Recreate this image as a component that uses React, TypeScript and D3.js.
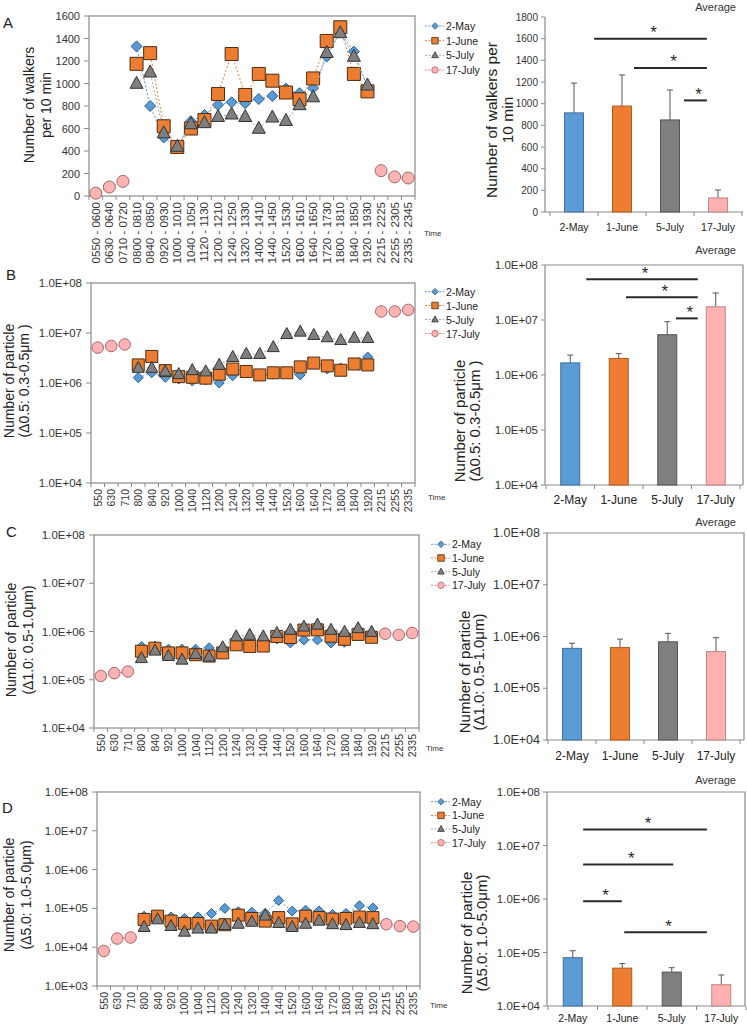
import React from "react";
import * as d3 from "d3";

const FONT = "'Liberation Sans', Arial, Helvetica, sans-serif";

// ---------- categories ----------
const timeLabelsA = ["0550 - 0600","0630 - 0640","0710 - 0720","0800 - 0810","0840 - 0850","0920 - 0930","1000 - 1010","1040 - 1050","1120 - 1130","1200 - 1210","1240 - 1250","1320 - 1330","1400 - 1410","1440 - 1450","1520 - 1530","1600 - 1610","1640 - 1650","1720 - 1730","1800 - 1810","1840 - 1850","1920 - 1930","2215 - 2225","2255 - 2305","2335 - 2345"];
const timeLabels = ["550","630","710","800","840","920","1000","1040","1120","1200","1240","1320","1400","1440","1520","1600","1640","1720","1800","1840","1920","2215","2255","2335"];
const dates = ["2-May", "1-June", "5-July", "17-July"];
const dayIdx = d3.range(3, 21);
const nightIdx = [0, 1, 2, 21, 22, 23];

// ---------- Panel A: walkers ----------
const walkersMay = [1330, 800, 520, 430, 665, 720, 810, 833, 825, 862, 889, 955, 914, 960, 1240, 1455, 1283, 966];
const walkersJune = [1175, 1270, 620, 436, 600, 675, 907, 1262, 898, 1085, 1025, 920, 860, 1045, 1378, 1500, 1085, 930];
const walkersJuly5 = [1000, 1100, 560, 440, 640, 650, 705, 727, 705, 600, 700, 670, 810, 880, 1274, 1450, 1240, 985];
const walkersJuly17 = [25, 80, 130, 225, 170, 160];
const walkersMean = [915, 978, 850, 130];
const walkersSD = [275, 287, 276, 73];

// ---------- Panel B: 0.3-0.5 um ----------
const pmBMay = [1.28e6, 1.6e6, 1.3e6, 1.2e6, 1.1e6, 1.15e6, 1.0e6, 1.4e6, 1.6e6, 1.4e6, 1.5e6, 1.55e6, 1.45e6, 2.4e6, 1.9e6, 2.0e6, 2.4e6, 3.3e6];
const pmBJune = [2.3e6, 3.4e6, 1.77e6, 1.34e6, 1.3e6, 1.25e6, 1.5e6, 1.9e6, 1.7e6, 1.45e6, 1.6e6, 1.6e6, 2.1e6, 2.5e6, 2.2e6, 1.8e6, 2.4e6, 2.3e6];
const pmBJuly5 = [2.0e6, 2.0e6, 1.7e6, 1.5e6, 1.8e6, 1.7e6, 2.3e6, 3.3e6, 3.8e6, 3.8e6, 5.2e6, 9.5e6, 1.06e7, 9.1e6, 8.2e6, 7.2e6, 8.0e6, 7.9e6];
const pmBJuly17 = [5.1e6, 5.5e6, 5.9e6, 2.7e7, 2.7e7, 2.9e7];
const pmBMean = [1.66e6, 2.0e6, 5.4e6, 1.74e7];
const pmBSD = [0.64e6, 0.45e6, 3.9e6, 1.36e7];

// ---------- Panel C: 0.5-1.0 um ----------
const pmCMay = [4.9e5, 5.0e5, 4.3e5, 4.3e5, 4.3e5, 4.6e5, 4.0e5, 5.5e5, 5.2e5, 5.3e5, 7.0e5, 5.8e5, 6.7e5, 6.7e5, 5.8e5, 6.0e5, 9.0e5, 8.0e5];
const pmCJune = [3.9e5, 4.5e5, 3.6e5, 3.6e5, 3.3e5, 3.1e5, 3.6e5, 5.3e5, 4.9e5, 5.0e5, 7.9e5, 7.5e5, 1.07e6, 1.08e6, 8.0e5, 6.9e5, 8.7e5, 7.6e5];
const pmCJuly5 = [2.8e5, 4.0e5, 3.1e5, 2.6e5, 3.4e5, 3.0e5, 4.7e5, 7.9e5, 8.5e5, 7.9e5, 9.3e5, 1.08e6, 1.26e6, 1.38e6, 1.08e6, 9.8e5, 1.17e6, 9.8e5];
const pmCJuly17 = [1.2e5, 1.37e5, 1.48e5, 9.0e5, 8.5e5, 9.3e5];
const pmCMean = [5.9e5, 6.1e5, 7.9e5, 5.1e5];
const pmCSD = [1.5e5, 2.8e5, 3.6e5, 4.4e5];

// ---------- Panel D: 1.0-5.0 um ----------
const pmDMay = [6.3e4, 6.0e4, 6.0e4, 5.5e4, 6.0e4, 7.4e4, 1.0e5, 8.2e4, 8.0e4, 7.5e4, 1.6e5, 8.5e4, 9.0e4, 8.6e4, 7.0e4, 7.4e4, 1.17e5, 1.03e5];
const pmDJune = [5.2e4, 6.3e4, 4.7e4, 4.1e4, 4.1e4, 3.5e4, 3.8e4, 6.7e4, 5.5e4, 4.7e4, 5.8e4, 4.0e4, 6.3e4, 5.8e4, 5.3e4, 5.5e4, 6.0e4, 5.8e4];
const pmDJuly5 = [3.3e4, 5.2e4, 3.5e4, 2.5e4, 3.0e4, 3.0e4, 3.7e4, 4.0e4, 4.5e4, 6.5e4, 4.2e4, 3.3e4, 4.0e4, 4.8e4, 3.9e4, 3.7e4, 4.2e4, 3.9e4];
const pmDJuly17 = [8.0e3, 1.67e4, 1.78e4, 3.9e4, 3.5e4, 3.4e4];
const pmDMean = [8.0e4, 5.1e4, 4.3e4, 2.5e4];
const pmDSD = [2.8e4, 1.1e4, 0.9e4, 1.3e4];

// significance annotations: from/to in category units, y in data units
const sigA = [{ from: 0.42, to: 2.77, y: 1600 }, { from: 1.25, to: 2.77, y: 1330 }, { from: 2.29, to: 2.77, y: 1030 }];
const sigB = [{ from: 0.33, to: 2.63, y: 5.5e7 }, { from: 1.15, to: 2.63, y: 2.6e7 }, { from: 2.18, to: 2.63, y: 1.07e7 }];
const sigD = [{ from: 0.21, to: 2.71, y: 2.0e7 }, { from: 0.21, to: 2.03, y: 4.4e6 }, { from: 0.21, to: 0.99, y: 9.1e5 }, { from: 1.04, to: 2.71, y: 2.4e5 }];

// ---------- styles ----------
type Shape = "diamond" | "square" | "triangle" | "circle";
const shapes: Shape[] = ["diamond", "square", "triangle", "circle"];
const markerFill = ["#5B9BD5", "#ED7D31", "#7F7F7F", "#FFB3B3"];
const markerStroke = ["#2F5F8C", "#4A2E14", "#333333", "#A06868"];
const lineColor = ["#5B9BD5", "#ED7D31", "#A5A5A5", "#FF7C80"];
const barFill = ["#5B9BD5", "#ED7D31", "#7F7F7F", "#FFB0B0"];
const barStroke = ["#41719C", "#AE5A21", "#555555", "#C08585"];
const AXIS = "#8A8A8A";

function toSeries(day: number[] | null, night: number[] | null): (number | null)[] {
  const out: (number | null)[] = timeLabels.map(() => null);
  if (day) dayIdx.forEach((k, j) => (out[k] = day[j]));
  if (night) nightIdx.forEach((k, j) => (out[k] = night[j]));
  return out;
}

function markerPath(shape: Shape, s: number): string {
  const r = s / 2;
  if (shape === "diamond") return `M0,${-r}L${r},0L0,${r}L${-r},0Z`;
  if (shape === "square") return `M${-r},${-r}H${r}V${r}H${-r}Z`;
  if (shape === "triangle") {
    const h = s * 0.92;
    return `M0,${-h * 0.6}L${r},${h * 0.4}L${-r},${h * 0.4}Z`;
  }
  return d3.symbol(d3.symbolCircle, Math.PI * r * r)() as string;
}

const sciFmt = (v: number) => `1.0E+${String(Math.round(Math.log10(v))).padStart(2, "0")}`;

type LeftLayout = { x0: number; x1: number; yTop: number; yBot: number };

function LeftChart(p: {
  L: LeftLayout; labels: string[]; series: (number | null)[][]; log: boolean; domain: [number, number];
  ticks: number[]; fmt: (v: number) => string; msz: number[]; xFont: number; yFont: number;
  yLab: string[]; yLabX: number[]; yLabY: number;
}) {
  const { L } = p;
  const x = d3.scaleBand<number>().domain(d3.range(p.labels.length)).range([L.x0, L.x1]);
  const bw = x.bandwidth();
  const cx = (i: number) => (x(i) as number) + bw / 2;
  const y: any = p.log
    ? d3.scaleLog().domain(p.domain).range([L.yBot, L.yTop])
    : d3.scaleLinear().domain(p.domain).range([L.yBot, L.yTop]);
  const line = d3.line<number | null>().defined((d) => d != null).x((_d, i) => cx(i)).y((d) => y(d as number));
  return (
    <g>
      <rect x={L.x0} y={L.yTop} width={L.x1 - L.x0} height={L.yBot - L.yTop} fill="none" stroke={AXIS} strokeWidth={1.2} />
      {p.ticks.map((t) => (
        <g key={"yt" + t}>
          <line x1={L.x0 - 5} x2={L.x0} y1={y(t)} y2={y(t)} stroke={AXIS} />
          <text x={L.x0 - 9} y={y(t)} fontSize={p.yFont} textAnchor="end" dominantBaseline="central" fill="#333">{p.fmt(t)}</text>
        </g>
      ))}
      {d3.range(p.labels.length + 1).map((i) => (
        <line key={"xt" + i} x1={L.x0 + i * bw} x2={L.x0 + i * bw} y1={L.yBot} y2={L.yBot + 4} stroke={AXIS} />
      ))}
      {p.labels.map((lab, i) => (
        <text key={"xl" + i} x={cx(i)} y={L.yBot + 6} fontSize={p.xFont} textAnchor="end" dominantBaseline="central"
          transform={`rotate(-90, ${cx(i)}, ${L.yBot + 6})`} fill="#333">{lab}</text>
      ))}
      {p.series.map((s, si) => (
        <g key={"s" + si}>
          <path d={line(s) || ""} fill="none" stroke={lineColor[si]} strokeWidth={1} strokeDasharray="2,2" />
          {s.map((v, i) =>
            v == null ? null : (
              <path key={i} transform={`translate(${cx(i)},${y(v)})`} d={markerPath(shapes[si], p.msz[si])}
                fill={markerFill[si]} stroke={markerStroke[si]} strokeWidth={1} />
            )
          )}
        </g>
      ))}
      {p.yLab.map((t, k) => (
        <text key={"yl" + k} x={p.yLabX[k]} y={p.yLabY} fontSize={14} textAnchor="middle" dominantBaseline="central"
          transform={`rotate(-90, ${p.yLabX[k]}, ${p.yLabY})`} fill="#222">{t}</text>
      ))}
    </g>
  );
}

function Legend(p: { lx: number; ly: number[] }) {
  return (
    <g>
      {dates.map((d, i) => (
        <g key={d}>
          <line x1={p.lx - 10} x2={p.lx + 9} y1={p.ly[i]} y2={p.ly[i]} stroke={lineColor[i]} strokeWidth={1} strokeDasharray="2,1.5" />
          <path transform={`translate(${p.lx},${p.ly[i]})`} d={markerPath(shapes[i], 6.5)} fill={markerFill[i]} stroke={markerStroke[i]} strokeWidth={0.8} />
          <text x={p.lx + 11} y={p.ly[i]} fontSize={10.5} dominantBaseline="central" fill="#222">{d}</text>
        </g>
      ))}
    </g>
  );
}

type RightLayout = { axis: number; b0: number; b1: number; yTop: number; yBot: number; frameRight: number; frame: boolean; avgY: number; xLabDy: number };

function RightChart(p: {
  R: RightLayout; means: number[]; sds: number[]; log: boolean; domain: [number, number]; ticks: number[];
  fmt: (v: number) => string; sig: { from: number; to: number; y: number }[]; tickFont: number; xFont: number;
  yLab: string[]; yLabX: number[]; yLabY: number; yLabFont: number;
}) {
  const { R } = p;
  const x = d3.scaleBand<string>().domain(dates).range([R.b0, R.b1]);
  const bw = x.bandwidth();
  const y: any = p.log
    ? d3.scaleLog().domain(p.domain).range([R.yBot, R.yTop])
    : d3.scaleLinear().domain(p.domain).range([R.yBot, R.yTop]);
  const barW = 19;
  const cu = (c: number) => R.b0 + (c + 0.5) * bw;
  return (
    <g>
      {R.frame && (
        <path d={`M${R.axis},${R.yTop}H${R.frameRight}V${R.yBot}`} fill="none" stroke={AXIS} strokeWidth={1.2} />
      )}
      <line x1={R.axis} x2={R.axis} y1={R.yTop} y2={R.yBot} stroke={AXIS} strokeWidth={1.2} />
      <line x1={R.axis} x2={R.frameRight} y1={R.yBot} y2={R.yBot} stroke={AXIS} strokeWidth={1.2} />
      {p.ticks.map((t) => (
        <g key={"t" + t}>
          <line x1={R.axis - 4} x2={R.axis} y1={y(t)} y2={y(t)} stroke={AXIS} />
          <text x={R.axis - 7} y={y(t)} fontSize={p.tickFont} textAnchor="end" dominantBaseline="central" fill="#333">{p.fmt(t)}</text>
        </g>
      ))}
      {d3.range(dates.length + 1).map((i) => (
        <line key={"xt" + i} x1={R.b0 + i * bw} x2={R.b0 + i * bw} y1={R.yBot} y2={R.yBot + 4} stroke={AXIS} />
      ))}
      {dates.map((d, i) => {
        const bx = (x(d) as number) + (bw - barW) / 2;
        const top = y(p.means[i]);
        const et = y(p.means[i] + p.sds[i]);
        const c = (x(d) as number) + bw / 2;
        return (
          <g key={d}>
            <line x1={c} x2={c} y1={top} y2={et} stroke="#555" strokeWidth={1} />
            <line x1={c - 3} x2={c + 3} y1={et} y2={et} stroke="#555" strokeWidth={1} />
            <rect x={bx} y={top} width={barW} height={R.yBot - top} fill={barFill[i]} stroke={barStroke[i]} strokeWidth={1} />
            <text x={c} y={R.yBot + R.xLabDy} fontSize={p.xFont} textAnchor="middle" fill="#222">{d}</text>
          </g>
        );
      })}
      {p.sig.map((s, k) => (
        <g key={"sig" + k}>
          <line x1={cu(s.from)} x2={cu(s.to)} y1={y(s.y)} y2={y(s.y)} stroke="#2a2a2a" strokeWidth={2} />
          <text x={(cu(s.from) + cu(s.to)) / 2 + 3} y={y(s.y) - 0.5} fontSize={17} textAnchor="middle" fill="#2a2a2a">*</text>
        </g>
      ))}
      {p.yLab.map((t, k) => (
        <text key={"yl" + k} x={p.yLabX[k]} y={p.yLabY} fontSize={p.yLabFont} textAnchor="middle" dominantBaseline="central"
          transform={`rotate(-90, ${p.yLabX[k]}, ${p.yLabY})`} fill="#222">{t}</text>
      ))}
      <text x={736} y={R.avgY} fontSize={11} textAnchor="end" fill="#333">Average</text>
    </g>
  );
}

const logTicks8 = [1e4, 1e5, 1e6, 1e7, 1e8];
const logTicksD = [1e3, 1e4, 1e5, 1e6, 1e7, 1e8];
const walkerTicksL = d3.range(0, 1601, 200);
const walkerTicksR = d3.range(0, 1801, 200);

export default function App() {
  const sA = [toSeries(walkersMay, null), toSeries(walkersJune, null), toSeries(walkersJuly5, null), toSeries(null, walkersJuly17)];
  const sB = [toSeries(pmBMay, null), toSeries(pmBJune, null), toSeries(pmBJuly5, null), toSeries(null, pmBJuly17)];
  const sC = [toSeries(pmCMay, null), toSeries(pmCJune, null), toSeries(pmCJuly5, null), toSeries(null, pmCJuly17)];
  const sD = [toSeries(pmDMay, null), toSeries(pmDJune, null), toSeries(pmDJuly5, null), toSeries(null, pmDJuly17)];
  const mBig = [11, 13, 13, 12];
  const mSm = [10, 12, 12, 11.5];
  return (
    <svg width={747} height={1026} style={{ position: "absolute", left: 0, top: 0, background: "#fff" }} fontFamily={FONT}>
      <rect width={747} height={1026} fill="#fff" />
      {/* Panel letters */}
      <text x={3} y={28} fontSize={15} fill="#222">A</text>
      <text x={6} y={280} fontSize={15} fill="#222">B</text>
      <text x={6} y={537} fontSize={15} fill="#222">C</text>
      <text x={2} y={813} fontSize={15} fill="#222">D</text>

      {/* A */}
      <LeftChart L={{ x0: 89, x1: 415, yTop: 16, yBot: 196 }} labels={timeLabelsA} series={sA} log={false} domain={[0, 1600]}
        ticks={walkerTicksL} fmt={(v) => String(v)} msz={mBig} xFont={11.5} yFont={11}
        yLab={["Number of walkers", "per 10 min"]} yLabX={[29, 46]} yLabY={105} />
      <Legend lx={435} ly={[26, 40.7, 55.3, 70]} />
      <text x={424} y={236} fontSize={8} fill="#333">Time</text>
      <RightChart R={{ axis: 545, b0: 550, b1: 742, yTop: 17, yBot: 212, frameRight: 743, frame: false, avgY: 10.5, xLabDy: 19 }}
        means={walkersMean} sds={walkersSD} log={false} domain={[0, 1800]} ticks={walkerTicksR} fmt={(v) => String(v)}
        sig={sigA} tickFont={10} xFont={10.5} yLab={["Number of walkers per", "10 min"]} yLabX={[491, 507]} yLabY={120} yLabFont={15.5} />

      {/* B */}
      <LeftChart L={{ x0: 91, x1: 415, yTop: 283, yBot: 483 }} labels={timeLabels} series={sB} log={true} domain={[1e4, 1e8]}
        ticks={logTicks8} fmt={sciFmt} msz={mSm} xFont={10.5} yFont={11.5}
        yLab={["Number of particle", "(\u03940.5: 0.3-0.5\u03bcm )"]} yLabX={[9, 24]} yLabY={381} />
      <Legend lx={435} ly={[291.7, 305.5, 319.5, 333.5]} />
      <text x={428} y={500} fontSize={8} fill="#333">Time</text>
      <RightChart R={{ axis: 545, b0: 546, b1: 740, yTop: 265, yBot: 485, frameRight: 743, frame: true, avgY: 254, xLabDy: 19 }}
        means={pmBMean} sds={pmBSD} log={true} domain={[1e4, 1e8]} ticks={logTicks8} fmt={sciFmt}
        sig={sigB} tickFont={11.5} xFont={12} yLab={["Number of particle", "(\u03940.5: 0.3-0.5\u03bcm )"]} yLabX={[459, 474]} yLabY={421} yLabFont={15} />

      {/* C */}
      <LeftChart L={{ x0: 94, x1: 419, yTop: 535, yBot: 728 }} labels={timeLabels} series={sC} log={true} domain={[1e4, 1e8]}
        ticks={logTicks8} fmt={sciFmt} msz={mSm} xFont={10.5} yFont={11.5}
        yLab={["Number of particle", "(\u03941.0: 0.5-1.0\u03bcm)"]} yLabX={[10.5, 27.5]} yLabY={640} />
      <Legend lx={441} ly={[544.3, 558, 571.7, 585.3]} />
      <text x={426} y={751} fontSize={8} fill="#333">Time</text>
      <RightChart R={{ axis: 547, b0: 548, b1: 740, yTop: 533, yBot: 740, frameRight: 744, frame: true, avgY: 526, xLabDy: 20 }}
        means={pmCMean} sds={pmCSD} log={true} domain={[1e4, 1e8]} ticks={logTicks8} fmt={sciFmt}
        sig={[]} tickFont={12.5} xFont={12} yLab={["Number of particle", "(\u03941.0: 0.5-1.0\u03bcm)"]} yLabX={[464, 478]} yLabY={672} yLabFont={15} />

      {/* D */}
      <LeftChart L={{ x0: 97, x1: 420, yTop: 792, yBot: 986 }} labels={timeLabels} series={sD} log={true} domain={[1e3, 1e8]}
        ticks={logTicksD} fmt={sciFmt} msz={mSm} xFont={10.5} yFont={11.5}
        yLab={["Number of particle", "(\u03945.0: 1.0-5.0\u03bcm)"]} yLabX={[9, 26]} yLabY={895} />
      <Legend lx={441} ly={[801.7, 815.4, 829, 842.7]} />
      <text x={430} y={1008} fontSize={8} fill="#333">Time</text>
      <RightChart R={{ axis: 547, b0: 548, b1: 746, yTop: 792, yBot: 1006, frameRight: 745, frame: true, avgY: 784, xLabDy: 15.5 }}
        means={pmDMean} sds={pmDSD} log={true} domain={[1e4, 1e8]} ticks={logTicks8} fmt={sciFmt}
        sig={sigD} tickFont={11.5} xFont={10.5} yLab={["Number of particle", "(\u03945.0: 1.0-5.0\u03bcm)"]} yLabX={[466, 481]} yLabY={933} yLabFont={15} />
    </svg>
  );
}
